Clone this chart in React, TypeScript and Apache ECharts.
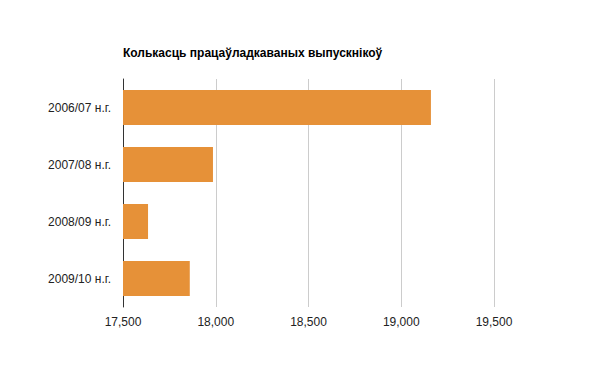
import React, { useEffect, useRef } from "react";
import * as echarts from "echarts";

const categories = ["2006/07 н.г.", "2007/08 н.г.", "2008/09 н.г.", "2009/10 н.г."];
const values = [19160, 17985, 17635, 17860];
const titleText = "Колькасць працаўладкаваных выпускнікоў";

export default function App() {
  const ref = useRef<HTMLDivElement>(null);
  useEffect(() => {
    if (!ref.current) return;
    const chart = echarts.init(ref.current, null, { renderer: "svg" });
    const font = "'Liberation Sans', Arial, sans-serif";
    chart.setOption({
      animation: false,
      backgroundColor: "#ffffff",
      title: {
        text: titleText,
        left: 123,
        top: 47,
        padding: 0,
        textStyle: { fontFamily: font, fontSize: 12, fontWeight: "bold", color: "#000000" },
      },
      grid: { left: 123, top: 79, width: 371, height: 228, containLabel: false },
      xAxis: {
        type: "value",
        min: 17500,
        max: 19500,
        interval: 500,
        axisLine: { show: false },
        axisTick: { show: false },
        splitLine: { show: true, lineStyle: { color: "#cccccc", width: 1 } },
        axisLabel: {
          fontFamily: font,
          fontSize: 12,
          color: "#222222",
          margin: 9,
          formatter: (v: number) => v.toLocaleString("en-US"),
        },
      },
      yAxis: {
        type: "category",
        data: categories,
        inverse: true,
        axisLine: { show: true, lineStyle: { color: "#333333", width: 1 } },
        axisTick: { show: false },
        splitLine: { show: false },
        axisLabel: { fontFamily: font, fontSize: 12, color: "#222222", margin: 12 },
      },
      series: [
        {
          type: "bar",
          data: values,
          barCategoryGap: "38.5%",
          itemStyle: { color: "#e69138" },
        },
      ],
    });
    return () => chart.dispose();
  }, []);
  return (
    <div
      ref={ref}
      style={{ position: "fixed", left: 0, top: 0, width: 600, height: 371 }}
    />
  );
}
